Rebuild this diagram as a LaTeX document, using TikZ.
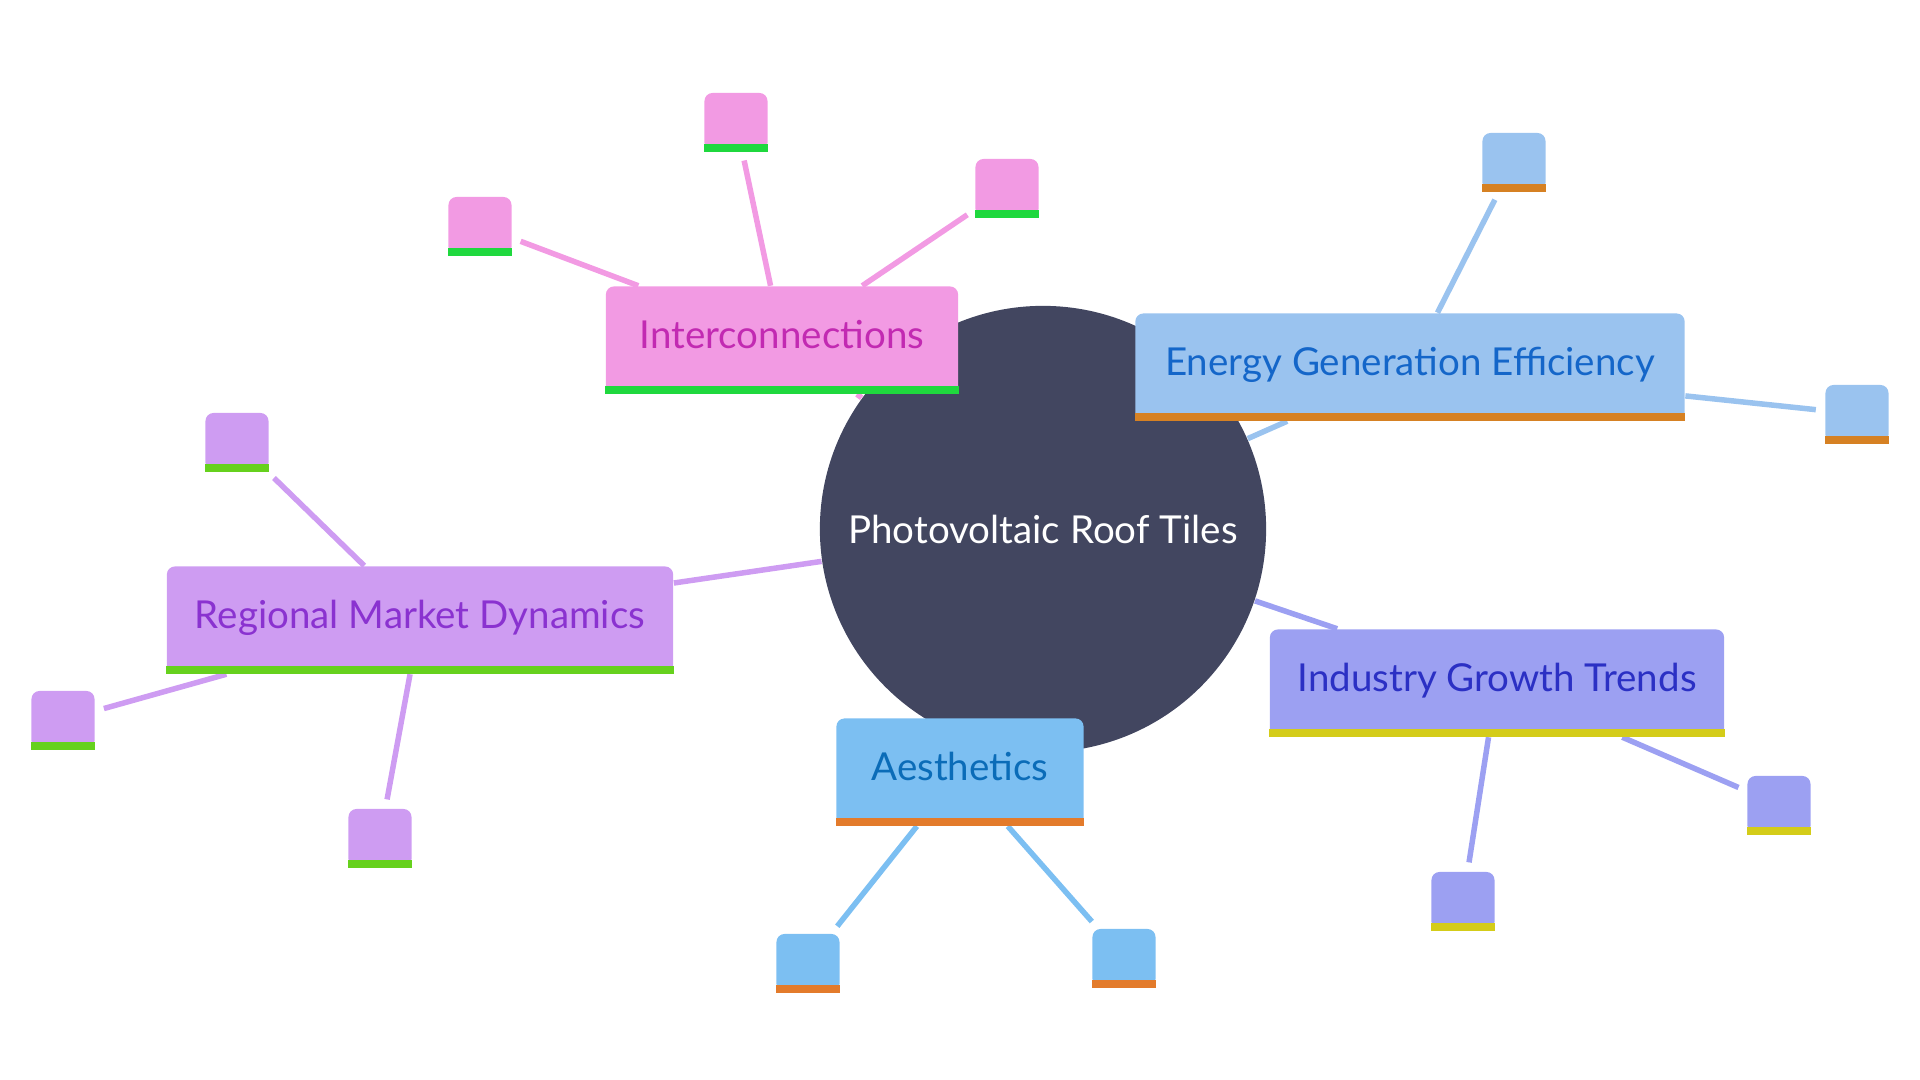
\documentclass[tikz,border=0pt]{standalone}
\usepackage{fontspec}
\setmainfont{Lato}
\usetikzlibrary{backgrounds}
\definecolor{rootfill}{HTML}{424660}
\definecolor{interfill}{HTML}{F29AE3}
\definecolor{intertext}{HTML}{C22AB2}
\definecolor{interbar}{HTML}{1FD83E}
\definecolor{energyfill}{HTML}{9AC3EF}
\definecolor{energytext}{HTML}{1466C9}
\definecolor{energybar}{HTML}{D68123}
\definecolor{regionfill}{HTML}{CE9CF2}
\definecolor{regiontext}{HTML}{8A32D0}
\definecolor{regionbar}{HTML}{66D11D}
\definecolor{growthfill}{HTML}{9CA0F2}
\definecolor{growthtext}{HTML}{2B30C4}
\definecolor{growthbar}{HTML}{D4CC19}
\definecolor{aesthfill}{HTML}{7CBFF2}
\definecolor{aesthtext}{HTML}{0B6CB8}
\definecolor{aesthbar}{HTML}{E37B2B}
\begin{document}
\begin{tikzpicture}[
        x=0.01cm, y=-0.01cm,
        every node/.style={font=\fontsize{10.95}{12}\selectfont},
        root/.style={circle, fill=rootfill, text=white, minimum size=4.46cm, inner sep=0pt},
        topic/.style={rectangle, rounded corners=0.08cm, minimum height=1.07cm, inner sep=0pt,
            text height=0.3cm, text depth=0.12cm},
        leaf/.style={rectangle, rounded corners=0.08cm, minimum width=0.63cm, minimum height=0.58cm,
            inner sep=0pt, fill=#1},
        link/.style={draw=#1, line width=0.055cm},
        toleaf/.style={shorten >=0.09cm}
    ]
    \useasboundingbox (0,0) rectangle (1920,1080);

    \node[root] (root) at (1043,529) {Photovoltaic Roof Tiles};

    \node[topic, fill=interfill, text=intertext, minimum width=3.52cm] (inter) at (782,340) {Interconnections};
    \node[topic, fill=energyfill, text=energytext, minimum width=5.49cm] (energy) at (1410,367) {Energy Generation Efficiency};
    \node[topic, fill=regionfill, text=regiontext, minimum width=5.06cm] (region) at (420,620) {Regional Market Dynamics};
    \node[topic, fill=growthfill, text=growthtext, minimum width=4.54cm] (growth) at (1497,683) {Industry Growth Trends};
    \node[topic, fill=aesthfill, text=aesthtext, minimum width=2.47cm] (aesth) at (960,772) {Aesthetics};

    \node[leaf=interfill] (inter1) at (480,226) {};
    \node[leaf=interfill] (inter2) at (736,122) {};
    \node[leaf=interfill] (inter3) at (1007,188) {};
    \node[leaf=energyfill] (energy1) at (1514,162) {};
    \node[leaf=energyfill] (energy2) at (1857,414) {};
    \node[leaf=regionfill] (region1) at (237,442) {};
    \node[leaf=regionfill] (region2) at (63,720) {};
    \node[leaf=regionfill] (region3) at (380,838) {};
    \node[leaf=growthfill] (growth1) at (1463,901) {};
    \node[leaf=growthfill] (growth2) at (1779,805) {};
    \node[leaf=aesthfill] (aesth1) at (808,963) {};
    \node[leaf=aesthfill] (aesth2) at (1124,958) {};

    \foreach \n/\c in {inter/interbar, inter1/interbar, inter2/interbar, inter3/interbar,
                       energy/energybar, energy1/energybar, energy2/energybar,
                       region/regionbar, region1/regionbar, region2/regionbar, region3/regionbar,
                       growth/growthbar, growth1/growthbar, growth2/growthbar,
                       aesth/aesthbar, aesth1/aesthbar, aesth2/aesthbar}
        \fill[\c] ([yshift=0.08cm]\n.south west) rectangle (\n.south east);

    \begin{scope}[on background layer]
        \draw[link=interfill] (root) -- (inter);
        \draw[link=energyfill] (root) -- (energy);
        \draw[link=regionfill] (root) -- (region);
        \draw[link=growthfill] (root) -- (growth);
        \draw[link=aesthfill] (root) -- (aesth);
        \foreach \k in {1,2,3}
            \draw[link=interfill, toleaf] (inter) -- (inter\k);
        \foreach \k in {1,2}
            \draw[link=energyfill, toleaf] (energy) -- (energy\k);
        \foreach \k in {1,2,3}
            \draw[link=regionfill, toleaf] (region) -- (region\k);
        \foreach \k in {1,2}
            \draw[link=growthfill, toleaf] (growth) -- (growth\k);
        \foreach \k in {1,2}
            \draw[link=aesthfill, toleaf] (aesth) -- (aesth\k);
    \end{scope}
\end{tikzpicture}
\end{document}
